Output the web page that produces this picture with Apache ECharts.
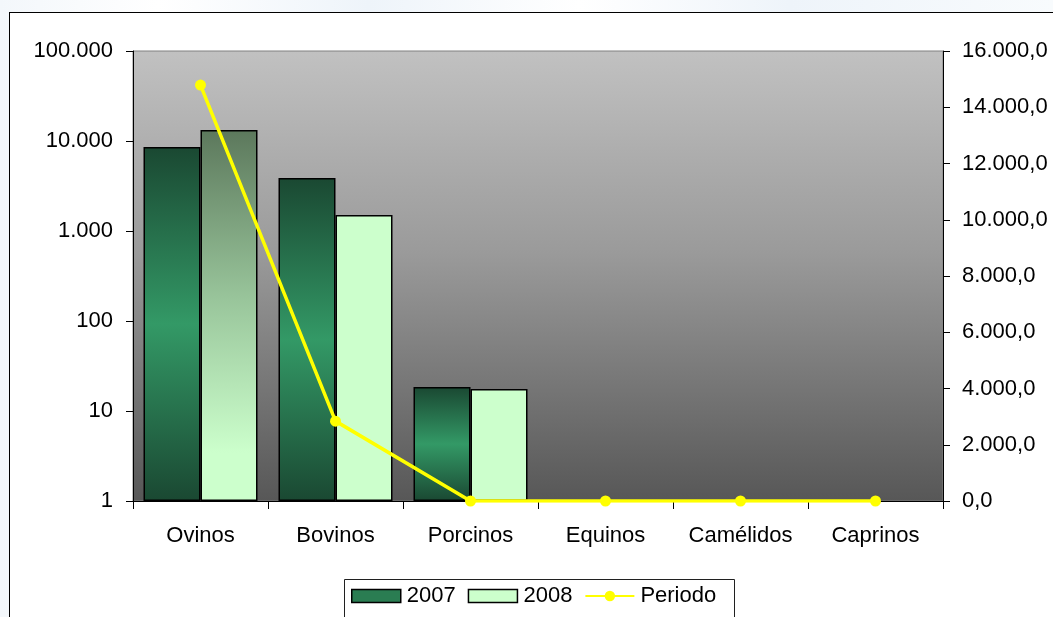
<!DOCTYPE html>
<html>
<head>
<meta charset="utf-8">
<script src="https://cdn.jsdelivr.net/npm/echarts@6/dist/echarts.min.js"></script>
<style>
html,body{margin:0;padding:0;width:1053px;height:617px;overflow:hidden;
 background:linear-gradient(90deg,#f3f7fb 0%,#ffffff 15%,#eef4fa 35%,#ffffff 55%,#eef4fa 75%,#f8fbfd 100%);}
#frame{position:absolute;left:9px;top:12px;width:1100px;height:700px;background:#fff;border:1px solid #000;box-sizing:border-box;}
#chart{position:absolute;left:0;top:0;width:1053px;height:617px;}
</style>
</head>
<body>
<div id="frame"></div>
<div id="chart"></div>
<script>
const categories = ['Ovinos', 'Bovinos', 'Porcinos', 'Equinos', 'Camélidos', 'Caprinos'];
const values2007 = [8570, 3880, 18.5, null, null, null];
const values2008 = [13250, 1505, 17.6, null, null, null];
const periodo = [14790, 2840, 0, 0, 0, 0];
const leftTicks = [1, 10, 100, 1000, 10000, 100000];
const rightMax = 16000;
const rightInterval = 2000;

function dots(n) {
  return String(Math.round(n)).replace(/\B(?=(\d{3})+(?!\d))/g, '.');
}

const FONT = 'Liberation Sans, Arial, sans-serif';
const FS = 22;
const grad2007 = {
  type: 'linear', x: 0, y: 0, x2: 0, y2: 1,
  colorStops: [
    {offset: 0, color: '#1a4832'},
    {offset: 0.5, color: '#339966'},
    {offset: 1, color: '#1a4832'}
  ]
};
const gradOv2008 = {
  type: 'linear', x: 0, y: 0, x2: 0, y2: 1,
  colorStops: [
    {offset: 0, color: '#5c785c'},
    {offset: 0.45, color: '#98c49a'},
    {offset: 0.87, color: '#ccffcc'},
    {offset: 1, color: '#ccffcc'}
  ]
};

const data2008 = values2008.map((v, i) => i === 0 ? {value: v, itemStyle: {color: gradOv2008}} : v);

const chart = echarts.init(document.getElementById('chart'), null, {renderer: 'canvas'});
chart.setOption({
  backgroundColor: 'transparent',
  animation: false,
  textStyle: {fontFamily: FONT},
  grid: {
    left: 133, right: 110, top: 51, bottom: 116,
    show: true,
    borderColor: '#808080', borderWidth: 1,
    backgroundColor: {
      type: 'linear', x: 0, y: 0, x2: 0, y2: 1,
      colorStops: [
        {offset: 0, color: '#c1c1c1'},
        {offset: 0.45, color: '#9a9a9a'},
        {offset: 1, color: '#575757'}
      ]
    }
  },
  legend: {
    left: 351, top: 585, padding: 0,
    itemWidth: 49, itemHeight: 13, itemGap: 12,
    textStyle: {fontSize: FS, color: '#000', fontFamily: FONT, padding: [0, 0, 0, 1]},
    data: [
      {name: '2007', icon: 'rect', itemStyle: {color: '#2a7d52', borderColor: '#000', borderWidth: 1.5}},
      {name: '2008', icon: 'rect', itemStyle: {color: '#ccffcc', borderColor: '#000', borderWidth: 1.5}},
      {name: 'Periodo'}
    ]
  },
  graphic: [{
    type: 'rect', left: 342, top: 577, silent: true,
    shape: {width: 390, height: 60},
    style: {fill: 'none', stroke: '#202020', lineWidth: 1}
  }],
  xAxis: {
    type: 'category',
    data: categories,
    boundaryGap: true,
    axisLine: {onZero: false, lineStyle: {color: '#000', width: 1}},
    axisTick: {show: true, length: 8, alignWithLabel: false, lineStyle: {color: '#000'}},
    axisLabel: {fontSize: FS, color: '#000', margin: 24, fontFamily: FONT, interval: 0},
    splitLine: {show: false}
  },
  yAxis: [{
    type: 'log',
    logBase: 10,
    min: leftTicks[0],
    max: leftTicks[leftTicks.length - 1],
    position: 'left',
    axisLine: {show: true, lineStyle: {color: '#000', width: 1}},
    axisTick: {show: true, length: 7, lineStyle: {color: '#000'}},
    minorTick: {show: false},
    splitLine: {show: false},
    axisLabel: {fontSize: FS, color: '#000', margin: 20, fontFamily: FONT, formatter: v => dots(v)}
  }, {
    type: 'value',
    min: 0, max: rightMax, interval: rightInterval,
    position: 'right',
    axisLine: {show: true, lineStyle: {color: '#000', width: 1}},
    axisTick: {show: true, length: 7, lineStyle: {color: '#000'}},
    splitLine: {show: false},
    axisLabel: {fontSize: FS, color: '#000', margin: 19, fontFamily: FONT, formatter: v => dots(v) + ',0'}
  }],
  series: [{
    name: '2007', type: 'bar', yAxisIndex: 0,
    data: values2007,
    barWidth: 57, barGap: '0%',
    itemStyle: {color: grad2007, borderColor: '#000', borderWidth: 1.5}
  }, {
    name: '2008', type: 'bar', yAxisIndex: 0,
    data: data2008,
    barWidth: 57, barGap: '0%',
    itemStyle: {color: '#ccffcc', borderColor: '#000', borderWidth: 1.5}
  }, {
    name: 'Periodo', type: 'line', yAxisIndex: 1,
    data: periodo,
    symbol: 'circle', symbolSize: 11,
    lineStyle: {color: '#ffff00', width: 3.5},
    itemStyle: {color: '#ffff00'},
    z: 5
  }]
});
</script>
</body>
</html>
